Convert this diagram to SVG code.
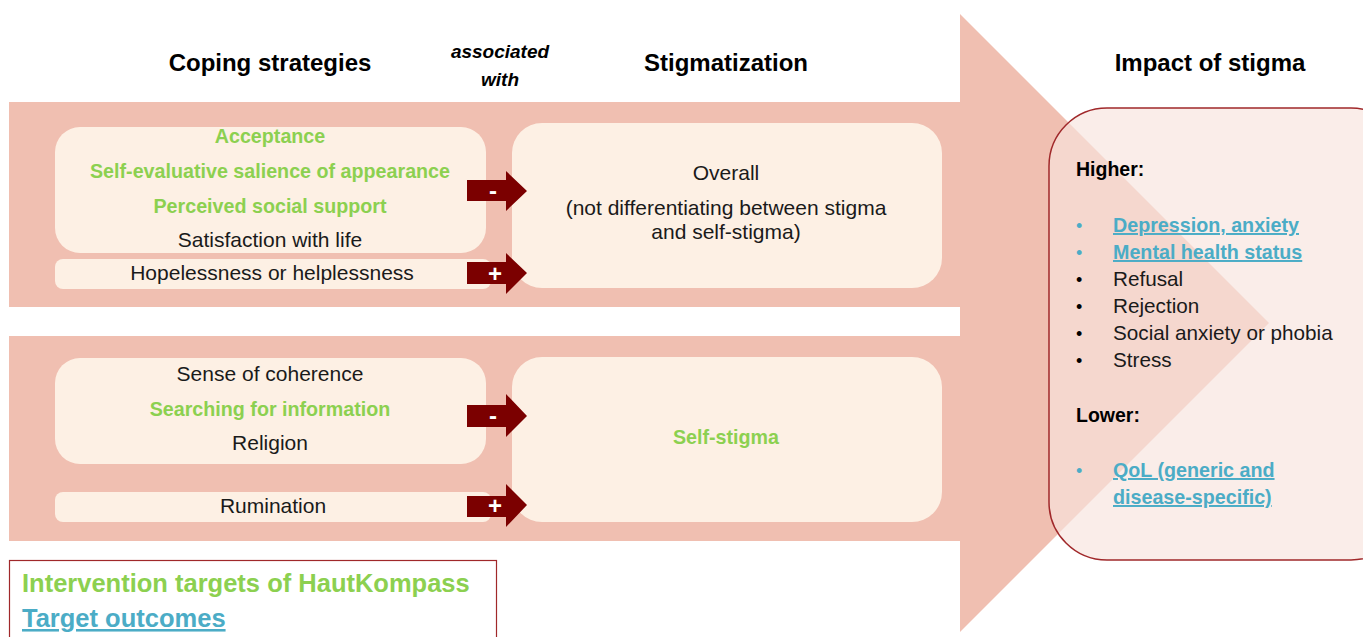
<svg xmlns="http://www.w3.org/2000/svg" width="1363" height="637" viewBox="0 0 1363 637">
<style>
text{font-family:"Liberation Sans",Arial,sans-serif;}
.h{font-size:24px;font-weight:bold;fill:#000;text-anchor:middle;}
.t{font-size:21px;fill:#1a1a1a;text-anchor:middle;}
.g{font-size:19.7px;font-weight:bold;fill:#8CD050;text-anchor:middle;}
.l{font-size:20.7px;fill:#1a1a1a;}
.b{font-size:19.7px;font-weight:bold;fill:#4BACC6;text-decoration:underline;}
.k{font-size:19.5px;font-weight:bold;fill:#000;}
.box{fill:#FDF0E4;}
.arr{fill:#7B0000;}
.sg{font-size:24px;font-weight:bold;fill:#fff;text-anchor:middle;}
.a{font-size:19px;font-weight:bold;font-style:italic;text-anchor:middle;fill:#000;}
</style>
<rect width="1363" height="637" fill="#fff"/>
<g id="background-arrow">
<rect x="9" y="102" width="952" height="205" fill="#F0BFB1"/>
<rect x="9" y="336" width="952" height="205" fill="#F0BFB1"/>
<polygon points="960,14 1269,323 960,632" fill="#F0BFB1"/>
</g>
<g id="headers">
<text class="h" x="270" y="71">Coping strategies</text>
<text class="a" x="500" y="58">associated</text>
<text class="a" x="500" y="86">with</text>
<text class="h" x="726" y="71">Stigmatization</text>
<text class="h" x="1210" y="71">Impact of stigma</text>
</g>
<g id="coping-top">
<rect class="box" x="55" y="127" width="431" height="126" rx="25"/>
<text class="g" x="270" y="143">Acceptance</text>
<text class="g" x="270" y="178">Self-evaluative salience of appearance</text>
<text class="g" x="270" y="213">Perceived social support</text>
<text class="t" x="270" y="247">Satisfaction with life</text>
</g>
<g id="coping-hopelessness">
<rect class="box" x="55" y="259" width="436" height="30" rx="8"/>
<text class="t" x="272" y="280">Hopelessness or helplessness</text>
</g>
<g id="stigma-overall">
<rect class="box" x="512" y="123" width="430" height="165" rx="30"/>
<text class="t" x="726" y="180">Overall</text>
<text class="t" x="726" y="215">(not differentiating between stigma</text>
<text class="t" x="726" y="239">and self-stigma)</text>
</g>
<g id="coping-bottom">
<rect class="box" x="55" y="358" width="431" height="106" rx="25"/>
<text class="t" x="270" y="381">Sense of coherence</text>
<text class="g" x="270" y="416">Searching for information</text>
<text class="t" x="270" y="450">Religion</text>
</g>
<g id="coping-rumination">
<rect class="box" x="55" y="492" width="436" height="30" rx="8"/>
<text class="t" x="273" y="513">Rumination</text>
</g>
<g id="self-stigma">
<rect class="box" x="512" y="357" width="430" height="165" rx="30"/>
<text class="g" x="726" y="444">Self-stigma</text>
</g>
<g id="connectors">
<polygon class="arr" points="467,180 506,180 506,171 527,191 506,211 506,201 467,201"/>
<text class="sg" x="493" y="199">-</text>
<polygon class="arr" points="467,262 506,262 506,253 527,273 506,294 506,284 467,284"/>
<text class="sg" x="495" y="282">+</text>
<polygon class="arr" points="467,405 506,405 506,394 527,416 506,437 506,427 467,427"/>
<text class="sg" x="493" y="424">-</text>
<polygon class="arr" points="467,496 506,496 506,484 527,505 506,527 506,517 467,517"/>
<text class="sg" x="495" y="514">+</text>
</g>
<g id="impact">
<rect x="1049" y="108" width="360" height="452" rx="58" fill="#F8E4DE" fill-opacity="0.66" stroke="#A0282A" stroke-width="1.5"/>
<text class="k" x="1076" y="176">Higher:</text>
<text x="1076" y="232" style="font-size:18px;fill:#4BACC6">•</text>
<text class="b" x="1113" y="232">Depression, anxiety</text>
<text x="1076" y="259" style="font-size:18px;fill:#4BACC6">•</text>
<text class="b" x="1113" y="259">Mental health status</text>
<text x="1076" y="286" style="font-size:18px;fill:#000">•</text>
<text class="l" x="1113" y="286">Refusal</text>
<text x="1076" y="313" style="font-size:18px;fill:#000">•</text>
<text class="l" x="1113" y="313">Rejection</text>
<text x="1076" y="340" style="font-size:18px;fill:#000">•</text>
<text class="l" x="1113" y="340">Social anxiety or phobia</text>
<text x="1076" y="367" style="font-size:18px;fill:#000">•</text>
<text class="l" x="1113" y="367">Stress</text>
<text class="k" x="1076" y="422">Lower:</text>
<text x="1076" y="477" style="font-size:18px;fill:#4BACC6">•</text>
<text class="b" x="1113" y="477">QoL (generic and</text>
<text class="b" x="1113" y="504">disease-specific)</text>
</g>
<g id="legend">
<rect x="9.5" y="560.5" width="487" height="90" fill="#fff" stroke="#A0282A" stroke-width="1.2"/>
<text x="22" y="592" style="font-size:25.5px;font-weight:bold;fill:#8CD050">Intervention targets of HautKompass</text>
<text x="22" y="627" style="font-size:25.5px;font-weight:bold;fill:#4BACC6;text-decoration:underline">Target outcomes</text>
</g>
</svg>
